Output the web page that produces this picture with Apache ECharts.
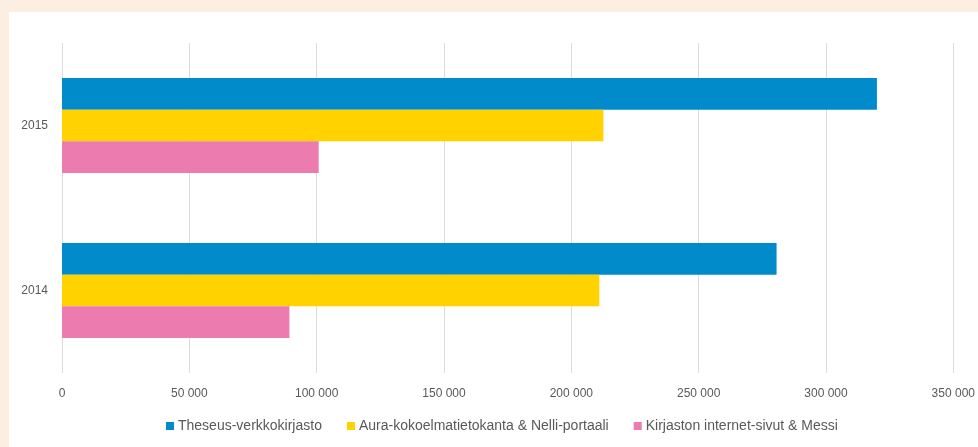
<!DOCTYPE html>
<html>
<head>
<meta charset="utf-8">
<script src="https://cdn.jsdelivr.net/npm/echarts@6/dist/echarts.min.js"></script>
<style>
html,body{margin:0;padding:0;width:978px;height:447px;background:#fcefe2;overflow:hidden;}
#chart{position:absolute;left:9px;top:12px;width:969px;height:435px;background:#ffffff;}
</style>
</head>
<body>
<div id="chart"></div>
<script>
const categories = ['2014', '2015'];
const seriesNames = ['Theseus-verkkokirjasto', 'Aura-kokoelmatietokanta & Nelli-portaali', 'Kirjaston internet-sivut & Messi'];
const theseus = [280600, 320000];
const aura = [211000, 212600];
const kirjasto = [89300, 100800];
const colors = ['#028bcb', '#ffd200', '#ec7cb0'];

function fmt(v){ return String(v).replace(/\B(?=(\d{3})+(?!\d))/g, ' '); }

const chart = echarts.init(document.getElementById('chart'));
const labelColor = '#595959';
const font = 'Liberation Sans';
chart.setOption({
  backgroundColor: '#ffffff',
  animation: false,
  color: colors,
  grid: {left: 53, right: 22, top: 31, bottom: 74, containLabel: false},
  legend: {
    left: 152, top: 402,
    itemWidth: 8, itemHeight: 8, itemGap: 25,
    icon: 'rect',
    textStyle: {color: labelColor, fontSize: 14, fontFamily: font, padding: [0,0,0,-1]},
    data: seriesNames
  },
  xAxis: {
    type: 'value', min: 0, max: 350000, interval: 50000,
    axisLine: {show: false}, axisTick: {show: false},
    splitLine: {lineStyle: {color: '#dcdcdc', width: 1}},
    axisLabel: {color: labelColor, fontSize: 12, fontFamily: font, margin: 15, formatter: fmt}
  },
  yAxis: {
    type: 'category', data: categories,
    axisLine: {show: false}, axisTick: {show: false},
    axisLabel: {color: labelColor, fontSize: 12, fontFamily: font, margin: 14}
  },
  series: [
    {name: seriesNames[0], type: 'bar', data: theseus, barGap: '0%', barCategoryGap: '42.4%'},
    {name: seriesNames[1], type: 'bar', data: aura, barGap: '0%', barCategoryGap: '42.4%'},
    {name: seriesNames[2], type: 'bar', data: kirjasto, barGap: '0%', barCategoryGap: '42.4%'}
  ]
});
</script>
</body>
</html>
